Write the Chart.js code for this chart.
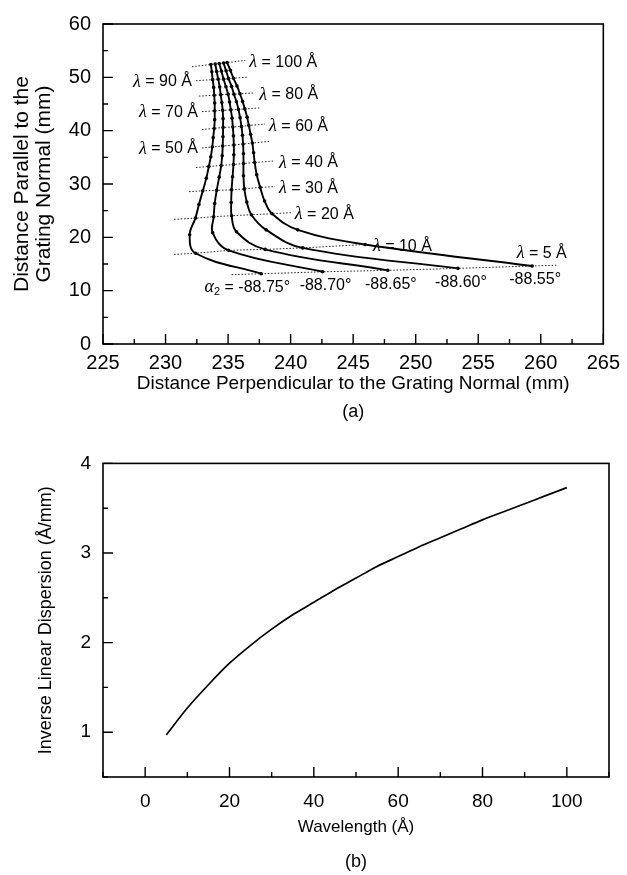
<!DOCTYPE html>
<html>
<head>
<meta charset="utf-8">
<script src="https://cdn.jsdelivr.net/npm/chart.js@4.4.1/dist/chart.umd.min.js"></script>
<style>
  html, body { margin: 0; padding: 0; background: #fff; }
  .wrap { position: absolute; left: 0; }
</style>
</head>
<body>
<div class="wrap" style="top:0"><canvas id="chartA" width="627" height="440"></canvas></div>
<div class="wrap" style="top:440px"><canvas id="chartB" width="627" height="435"></canvas></div>
<script>
// ---- (a) focal curves, one per grating angle, lambda = 5..100 A ----
const wavelengths = [5, 10, 15, 20, 25, 30, 35, 40, 45, 50, 55, 60, 65, 70, 75, 80, 85, 90, 95, 100];
const alphaAngles = ['-88.75°', '-88.70°', '-88.65°', '-88.60°', '-88.55°'];

const xA8875 = [237.65, 232.40, 231.93, 232.39, 232.67, 232.98, 233.26, 233.46, 233.62, 233.74, 233.81, 233.89, 233.93, 233.93, 233.93, 233.89, 233.85, 233.77, 233.70, 233.62];
const yA8875 = [13.17, 17.01, 20.49, 23.60, 26.16, 28.72, 31.10, 33.29, 35.12, 36.95, 38.69, 40.42, 42.07, 43.72, 45.18, 46.64, 48.11, 49.57, 51.03, 52.41];
const xA8870 = [242.55, 235.04, 233.77, 233.85, 233.93, 234.09, 234.29, 234.45, 234.53, 234.57, 234.59, 234.60, 234.60, 234.57, 234.50, 234.41, 234.33, 234.21, 234.09, 233.97];
const yA8870 = [13.54, 17.56, 20.85, 23.87, 26.34, 28.81, 31.28, 33.47, 35.30, 37.13, 38.87, 40.61, 42.25, 43.81, 45.27, 46.73, 48.20, 49.66, 51.09, 52.50];
const xA8865 = [247.77, 237.96, 235.67, 235.28, 235.25, 235.28, 235.36, 235.43, 235.46, 235.46, 235.43, 235.38, 235.32, 235.22, 235.12, 235.00, 234.83, 234.64, 234.47, 234.29];
const yA8865 = [13.81, 17.74, 21.04, 24.05, 26.52, 28.90, 31.37, 33.66, 35.49, 37.31, 39.02, 40.70, 42.35, 43.90, 45.36, 46.83, 48.23, 49.66, 51.16, 52.59];
const xA8860 = [253.38, 240.97, 238.04, 236.86, 236.50, 236.30, 236.23, 236.23, 236.23, 236.20, 236.15, 236.07, 235.96, 235.83, 235.67, 235.47, 235.28, 235.04, 234.84, 234.64];
const yA8860 = [14.18, 18.02, 21.40, 24.24, 26.61, 29.08, 31.55, 33.84, 35.67, 37.50, 39.14, 40.79, 42.44, 43.99, 45.42, 46.83, 48.29, 49.75, 51.22, 52.68];
const xA8855 = [259.31, 245.95, 240.57, 238.52, 237.92, 237.57, 237.29, 237.13, 237.04, 236.94, 236.80, 236.66, 236.52, 236.34, 236.16, 235.95, 235.71, 235.43, 235.18, 234.92];
const yA8855 = [14.63, 18.66, 21.40, 24.42, 26.80, 29.36, 31.74, 34.02, 35.85, 37.68, 39.33, 40.97, 42.53, 44.08, 45.49, 46.92, 48.38, 49.84, 51.31, 52.77];

// constant-wavelength dotted lines and how far they run past the outer curves
const isoWavelengths = [5, 10, 20, 30, 40, 50, 60, 70, 80, 90, 100];
const isoLeftX  = [235.28, 230.69, 230.69, 231.88, 232.43, 232.91, 232.91, 232.91, 232.67, 232.43, 232.11];
const isoRightX = [261.36, 246.26, 240.02, 238.75, 238.75, 238.36, 237.96, 237.57, 237.17, 236.62, 236.38];

const perpTicks = [225, 230, 235, 240, 245, 250, 255, 260, 265];
const parTicks = [0, 10, 20, 30, 40, 50, 60];

// ---- (b) inverse linear dispersion ----
const waveB = [5, 10, 15, 20, 25, 30, 35, 40, 45, 50, 55, 60, 65, 70, 75, 80, 85, 90, 95, 100];
const dispersion = [0.97, 1.27, 1.53, 1.77, 1.97, 2.15, 2.31, 2.45, 2.59, 2.72, 2.85, 2.96, 3.07, 3.17, 3.27, 3.37, 3.46, 3.55, 3.64, 3.73];
const waveTicks = [0, 20, 40, 60, 80, 100];
const dispTicks = [1, 2, 3, 4];

const FONT = "'Liberation Sans', Arial, sans-serif";
const SERIF = "'Liberation Serif', 'Times New Roman', serif";

// where each lambda label sits relative to its dotted line
const isoLabelSide = ['above', 'right', 'right', 'right', 'right', 'left', 'right', 'left', 'right', 'left', 'right'];

function frameTicks(minorX, minorY) {
  return {
    id: 'frameTicks',
    afterDraw(chart) {
      const { ctx, chartArea: a, scales: { x, y } } = chart;
      ctx.save();
      ctx.strokeStyle = '#000';
      ctx.lineWidth = 1.6;
      ctx.strokeRect(a.left, a.top, a.right - a.left, a.bottom - a.top);
      ctx.lineWidth = 1.4;
      ctx.beginPath();
      const mx = x.ticks.map(t => t.value);
      for (let v = x.min; v <= x.max + 1e-9; v += minorX) {
        const len = mx.some(m => Math.abs(m - v) < 1e-6) ? 10 : 5;
        const px = x.getPixelForValue(v);
        ctx.moveTo(px, a.bottom); ctx.lineTo(px, a.bottom - len);
      }
      const my = y.ticks.map(t => t.value);
      for (let v = y.min; v <= y.max + 1e-9; v += minorY) {
        const len = my.some(m => Math.abs(m - v) < 1e-6) ? 10 : 5;
        const py = y.getPixelForValue(v);
        ctx.moveTo(a.left, py); ctx.lineTo(a.left + len, py);
      }
      ctx.stroke();
      ctx.restore();
    }
  };
}

function panelLetter(text, yPos) {
  return {
    id: 'panelLetter',
    afterDraw(chart) {
      const { ctx, chartArea: a } = chart;
      ctx.save();
      ctx.fillStyle = '#000';
      ctx.font = '18px ' + FONT;
      ctx.textAlign = 'center';
      ctx.textBaseline = 'middle';
      ctx.fillText(text, (a.left + a.right) / 2, yPos);
      ctx.restore();
    }
  };
}

// ---- build (a) ----
const curvesX = [xA8875, xA8870, xA8865, xA8860, xA8855];
const curvesY = [yA8875, yA8870, yA8865, yA8860, yA8855];

function isoLine(k) {
  const i = wavelengths.indexOf(isoWavelengths[k]);
  const pts = curvesX.map((xs, c) => ({ x: xs[i], y: curvesY[c][i] }));
  const p0 = pts[0], p4 = pts[pts.length - 1];
  const slope = (p4.y - p0.y) / (p4.x - p0.x);
  const yAt = xv => p0.y + slope * (xv - p0.x);
  return [{ x: isoLeftX[k], y: yAt(isoLeftX[k]) }, ...pts, { x: isoRightX[k], y: yAt(isoRightX[k]) }];
}

const datasetsA = [];
isoWavelengths.forEach((w, k) => {
  datasetsA.push({
    data: isoLine(k),
    showLine: true,
    borderColor: '#222',
    borderWidth: 1,
    borderDash: [1.5, 1.8],
    pointRadius: 0,
    tension: 0
  });
});
curvesX.forEach((xs, c) => {
  datasetsA.push({
    data: xs.map((v, i) => ({ x: v, y: curvesY[c][i] })),
    showLine: true,
    borderColor: '#000',
    borderWidth: 1.9,
    pointRadius: 1.8,
    pointBackgroundColor: '#000',
    pointBorderWidth: 0,
    tension: 0.4
  });
});

function drawLambda(ctx, rest, x, y, align) {
  ctx.font = 'italic 18px ' + SERIF;
  const wl = ctx.measureText('λ').width;
  ctx.font = '16px ' + FONT;
  const wr = ctx.measureText(rest).width;
  let sx = align === 'right' ? x - wl - wr : x;
  ctx.textAlign = 'left';
  ctx.textBaseline = 'middle';
  ctx.font = 'italic 18px ' + SERIF;
  ctx.fillText('λ', sx, y);
  ctx.font = '16px ' + FONT;
  ctx.fillText(rest, sx + wl, y);
}

const annotateA = {
  id: 'annotateA',
  afterDatasetsDraw(chart) {
    const { ctx, scales: { x, y } } = chart;
    ctx.save();
    ctx.fillStyle = '#000';
    isoWavelengths.forEach((w, k) => {
      const line = chart.data.datasets[k].data;
      const L = line[0], R = line[line.length - 1];
      const rest = ' = ' + w + ' Å';
      const side = isoLabelSide[k];
      if (side === 'right') {
        drawLambda(ctx, rest, x.getPixelForValue(R.x) + 4, y.getPixelForValue(R.y) + 2, 'left');
      } else if (side === 'left') {
        drawLambda(ctx, rest, x.getPixelForValue(L.x) - 4, y.getPixelForValue(L.y) + 1, 'right');
      } else {
        drawLambda(ctx, rest, x.getPixelForValue(R.x) + 9, y.getPixelForValue(R.y) - 12, 'right');
      }
    });
    // grating angle labels under the 5 A ends
    ctx.textBaseline = 'middle';
    curvesX.forEach((xs, c) => {
      const px = x.getPixelForValue(xs[0]) + 3;
      const py = y.getPixelForValue(curvesY[c][0]) + 14;
      ctx.font = '16px ' + FONT;
      ctx.textAlign = 'center';
      ctx.fillText(alphaAngles[c], px, py);
      if (c === 0) {
        const half = ctx.measureText(alphaAngles[c]).width / 2;
        ctx.textAlign = 'right';
        const eqW = ctx.measureText(' = ').width;
        ctx.fillText(' = ', px - half, py);
        ctx.font = '11px ' + FONT;
        const subW = ctx.measureText('2').width;
        ctx.fillText('2', px - half - eqW, py + 4);
        ctx.font = 'italic 18px ' + SERIF;
        ctx.fillText('α', px - half - eqW - subW, py);
      }
    });
    ctx.restore();
  }
};

new Chart(document.getElementById('chartA'), {
  type: 'scatter',
  data: { datasets: datasetsA },
  options: {
    responsive: false,
    animation: false,
    events: [],
    layout: { padding: { left: 0, right: 18, top: 16, bottom: 0 } },
    plugins: { legend: { display: false }, tooltip: { enabled: false } },
    scales: {
      x: {
        type: 'linear', min: 225, max: 265,
        afterBuildTicks: s => { s.ticks = perpTicks.map(v => ({ value: v })); },
        afterFit: s => { s.height = 96; },
        grid: { display: false, drawTicks: false },
        border: { display: false },
        ticks: { color: '#000', padding: 7, font: { family: FONT, size: 20 } },
        title: {
          display: true, color: '#000',
          text: 'Distance Perpendicular to the Grating Normal (mm)',
          font: { family: FONT, size: 19 },
          padding: { top: 0, bottom: 45 }
        }
      },
      y: {
        type: 'linear', min: 0, max: 60,
        afterBuildTicks: s => { s.ticks = parTicks.map(v => ({ value: v })); },
        afterFit: s => { s.width = 103; },
        grid: { display: false, drawTicks: false },
        border: { display: false },
        ticks: { color: '#000', padding: 12, font: { family: FONT, size: 20 } },
        title: {
          display: true, color: '#000',
          text: ['Distance Parallel to the', 'Grating Normal (mm)'],
          font: { family: FONT, size: 21, lineHeight: 1.05 },
          padding: { top: 11, bottom: 0 }
        }
      }
    }
  },
  plugins: [frameTicks(2.5, 5), annotateA, panelLetter('(a)', 412)]
});

// ---- build (b) ----
new Chart(document.getElementById('chartB'), {
  type: 'scatter',
  data: {
    datasets: [{
      data: waveB.map((w, i) => ({ x: w, y: dispersion[i] })),
      showLine: true,
      borderColor: '#000',
      borderWidth: 1.7,
      pointRadius: 0,
      tension: 0.3
    }]
  },
  options: {
    responsive: false,
    animation: false,
    events: [],
    layout: { padding: { left: 0, right: 18, top: 17, bottom: 0 } },
    plugins: { legend: { display: false }, tooltip: { enabled: false } },
    scales: {
      x: {
        type: 'linear', min: -10, max: 110,
        afterBuildTicks: s => { s.ticks = waveTicks.map(v => ({ value: v })); },
        afterFit: s => { s.height = 98; },
        grid: { display: false, drawTicks: false },
        border: { display: false },
        ticks: { color: '#000', padding: 13, font: { family: FONT, size: 19 } },
        title: {
          display: true, color: '#000',
          text: 'Wavelength (Å)',
          font: { family: FONT, size: 17 },
          padding: { top: 0, bottom: 37 }
        }
      },
      y: {
        type: 'linear', min: 0.5, max: 4,
        afterBuildTicks: s => { s.ticks = dispTicks.map(v => ({ value: v })); },
        afterFit: s => { s.width = 103; },
        grid: { display: false, drawTicks: false },
        border: { display: false },
        ticks: { color: '#000', padding: 12, font: { family: FONT, size: 19 } },
        title: {
          display: true, color: '#000',
          text: 'Inverse Linear Dispersion (Å/mm)',
          font: { family: FONT, size: 18 },
          padding: { top: 35, bottom: 0 }
        }
      }
    }
  },
  plugins: [frameTicks(10, 0.5), panelLetter('(b)', 422)]
});
</script>
</body>
</html>
